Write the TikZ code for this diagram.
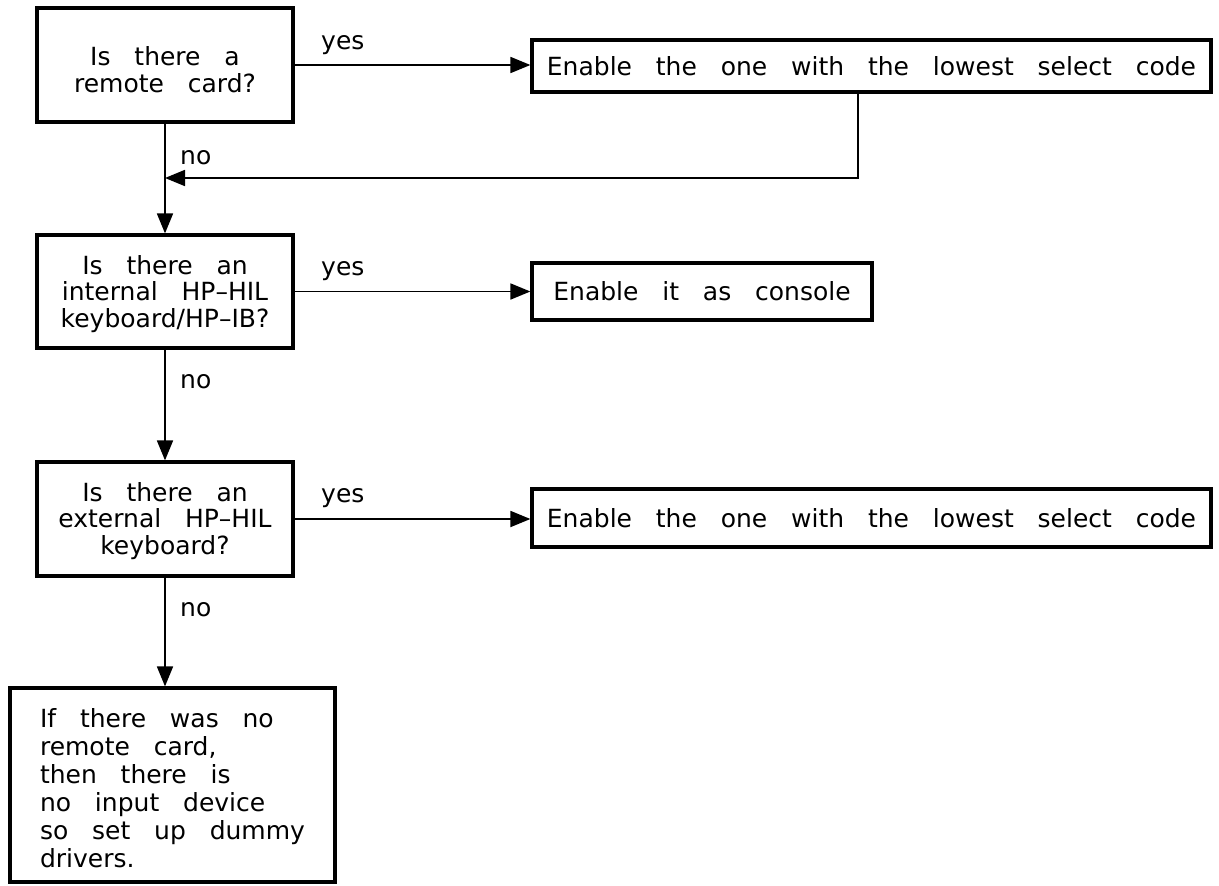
\documentclass[tikz,border=0pt]{standalone}
\usepackage{fontspec}
\setmainfont{DejaVu Sans}[WordSpace=3.0]
\usetikzlibrary{arrows.meta}
\tikzset{
  box/.style={draw, line width=3.2pt, align=center, inner sep=0pt,
    font=\fontsize{25}{26.5}\selectfont},
  lbl/.style={anchor=west, inner sep=0pt, font=\fontsize{25}{26.5}\selectfont},
  conn/.style={line width=1.8pt},
  arr/.style={conn, -{Triangle[length=20pt,width=16pt]}}
}
\newcommand{\tallfirst}[1]{\rule{0pt}{#1}}
\begin{document}
\begin{tikzpicture}[x=1pt,y=-1pt]
\useasboundingbox (0,0) rectangle (1219,886);
% boxes
\node[box, minimum width=256pt, minimum height=114pt] (b1) at (165,65) {\tallfirst{28pt}Is there a\\remote card?};
\node[box, minimum width=679pt, minimum height=52pt] (b2) at (871.5,66) {Enable the one with the lowest select code};
\node[box, minimum width=256pt, minimum height=113pt] (b3) at (165,291.5) {\tallfirst{24pt}Is there an\\internal HP--HIL\\keyboard/HP--IB?};
\node[box, minimum width=340pt, minimum height=57pt] (b4) at (702,291.5) {Enable it as console};
\node[box, minimum width=256pt, minimum height=114pt] (b5) at (165,519) {\tallfirst{23pt}Is there an\\external HP--HIL\\keyboard?};
\node[box, minimum width=679pt, minimum height=58pt] (b6) at (871.5,518) {Enable the one with the lowest select code};
\node[box, align=left, minimum width=325pt, minimum height=194pt, font=\fontsize{25}{28}\selectfont] (b7) at (172.5,785) {\tallfirst{26pt}If there was no\\remote card,\\then there is\\no input device\\so set up dummy\\drivers.};
% labels
\node[lbl] (y1) at (321,45) {yes};
\node[lbl] (n1) at (180,158) {no};
\node[lbl] (y2) at (321,271) {yes};
\node[lbl] (n2) at (180,382) {no};
\node[lbl] (y3) at (321,498) {yes};
\node[lbl] (n3) at (180,610) {no};
% connectors
\coordinate (r) at (858,178);
\coordinate (m) at (165,178);
\draw[arr] (b1.east) -- (b1.east -| b2.west);
\draw[arr] (b1.south) -- (b3.north);
\draw[arr] (b2.south -| r) |- (m);
\draw[arr] (b3.east) -- (b3.east -| b4.west);
\draw[arr] (b3.south) -- (b5.north);
\draw[arr] (b5.east) -- (b5.east -| b6.west);
\draw[arr] (b5.south) -- (b5.south |- b7.north);
\end{tikzpicture}
\end{document}
